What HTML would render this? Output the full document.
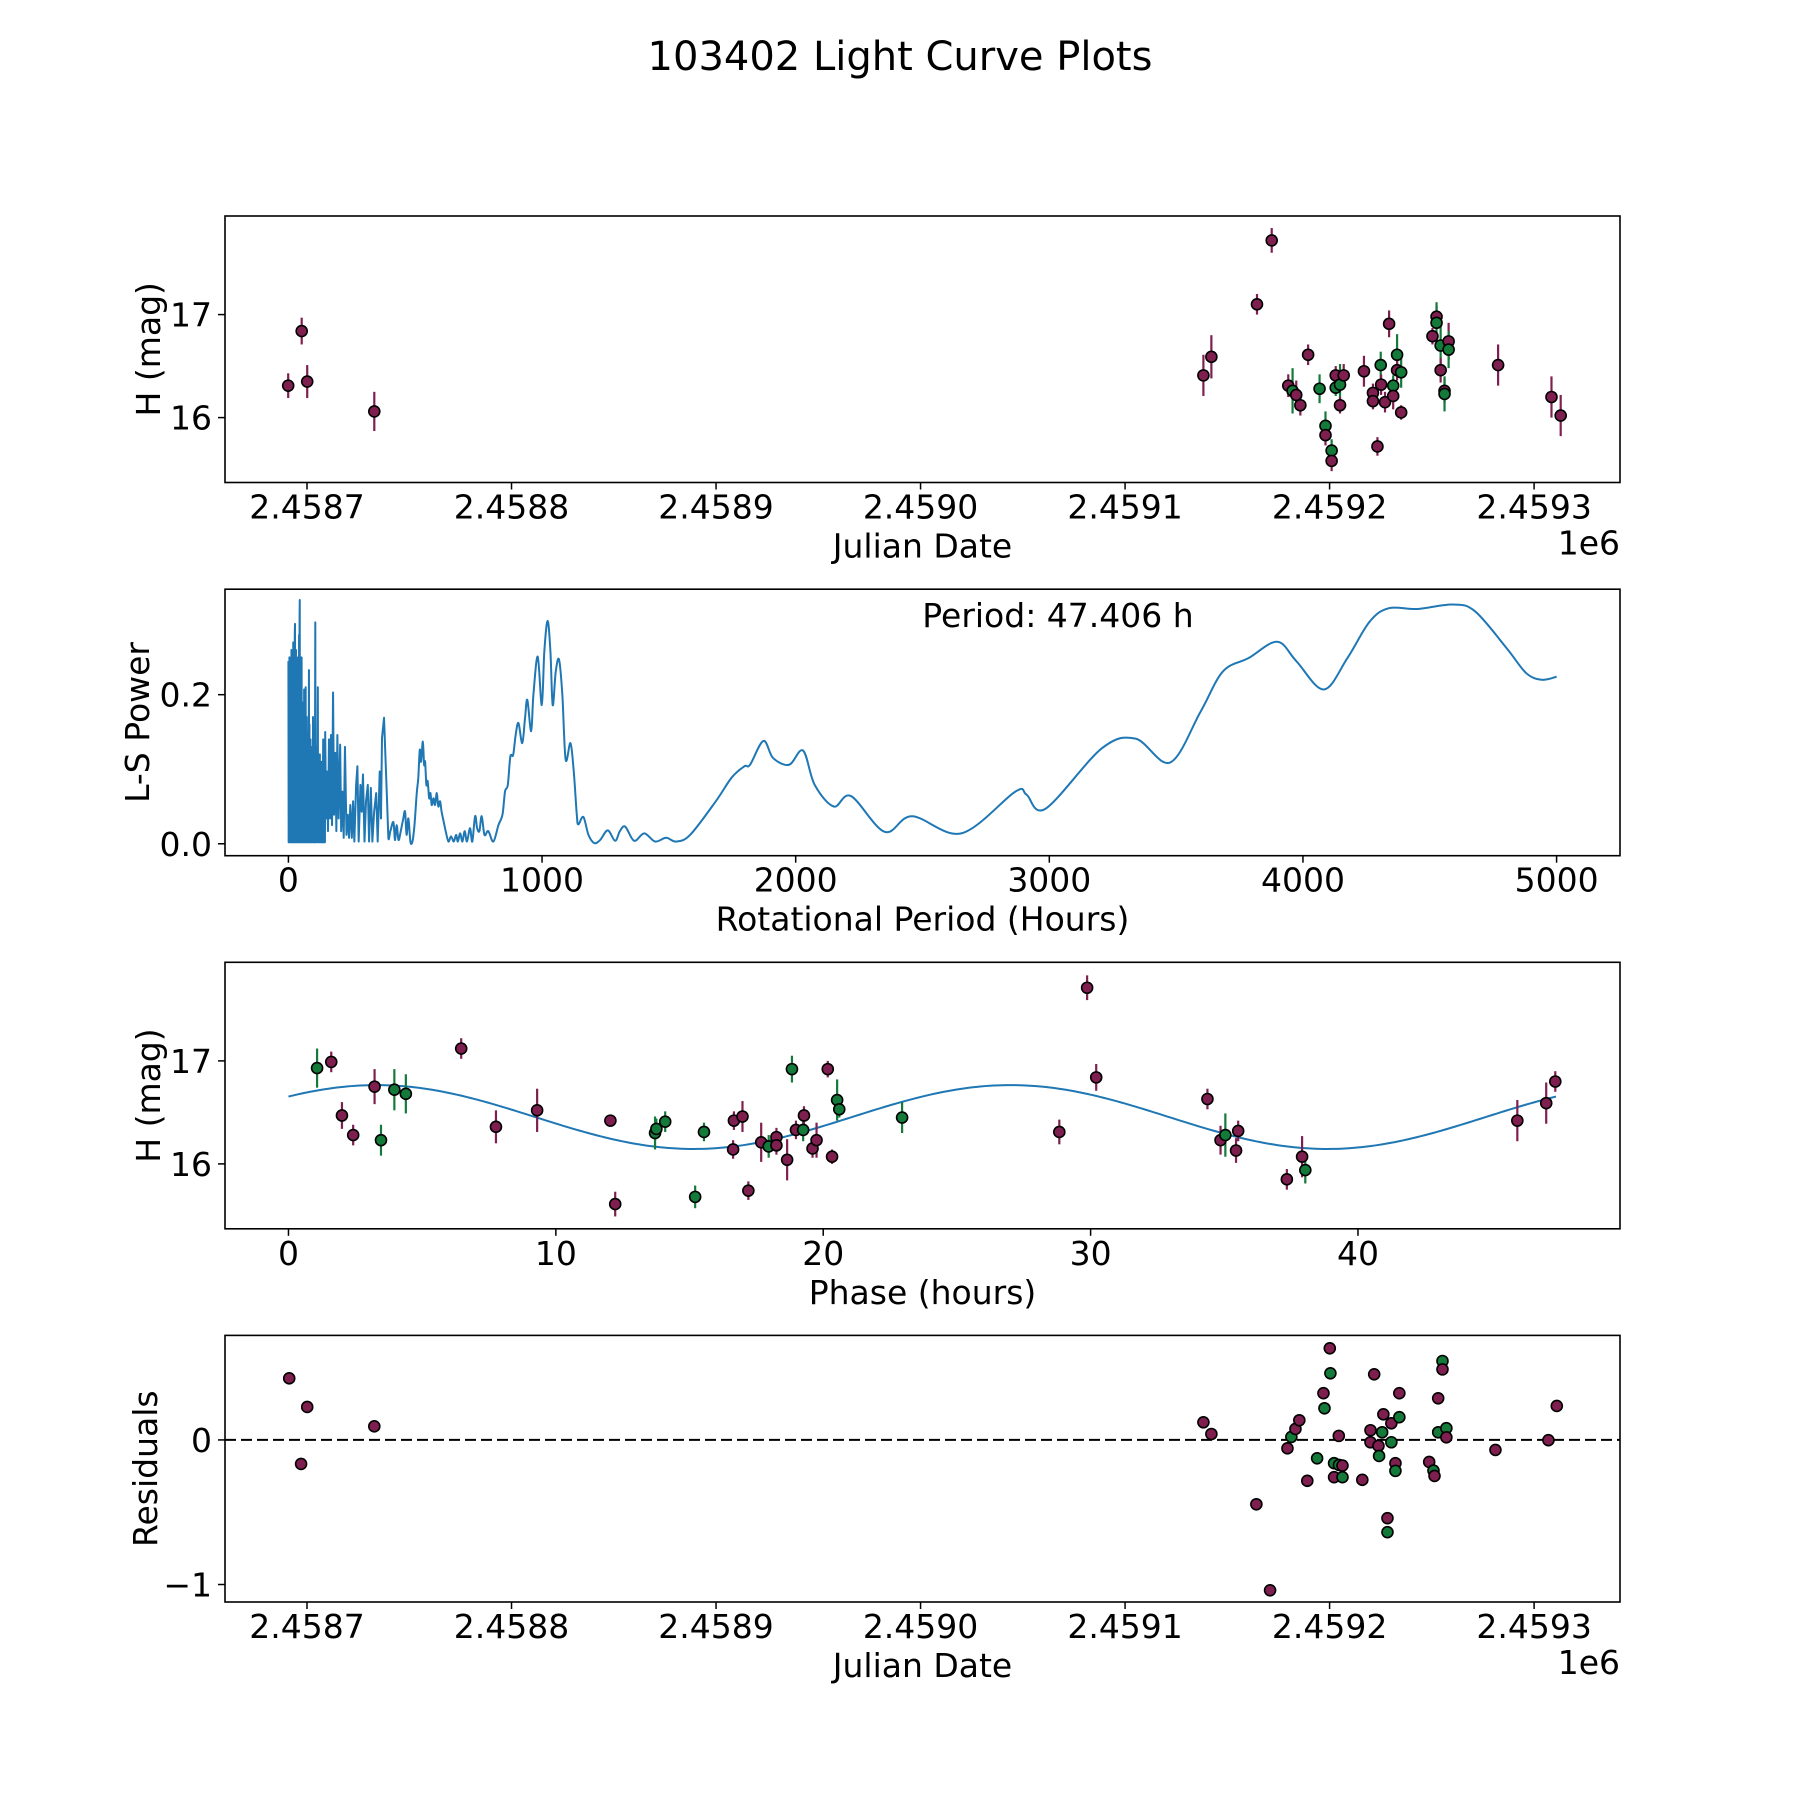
<!DOCTYPE html>
<html><head><meta charset="utf-8"><style>
html,body{margin:0;padding:0;background:#fff}
svg{display:block}
text{font-family:"DejaVu Sans","Liberation Sans",sans-serif;fill:#000}
</style></head><body>
<svg id="fig" width="1800" height="1800" viewBox="0 0 1800 1800" xmlns="http://www.w3.org/2000/svg">
<rect width="1800" height="1800" fill="#fff"/>
<text x="900" y="70" font-size="40" text-anchor="middle">103402 Light Curve Plots</text>
</svg>
<script>
// ---- Panel 1: light curve (Julian Date vs H mag)
const lcDate=[2458690.8,2458697.4,2458700.1,2458732.9,2459138.3,2459142.2,2459164.5,2459171.7,2459179.8,2459181.9,2459183.7,2459185.7,2459189.5,2459195.1,2459198.0,2459198.0,2459201.0,2459201.0,2459203.0,2459203.0,2459205.1,2459205.1,2459206.9,2459216.8,2459221.2,2459221.2,2459223.4,2459225.0,2459225.2,2459227.1,2459229.1,2459231.1,2459231.1,2459233.0,2459233.0,2459235.0,2459235.0,2459250.3,2459252.3,2459252.3,2459254.3,2459254.3,2459256.2,2459256.2,2459258.2,2459258.2,2459282.4,2459308.5,2459313.0];
const lcMag=[16.31,16.84,16.35,16.06,16.41,16.59,17.10,17.72,16.31,16.26,16.22,16.12,16.61,16.28,15.92,15.83,15.68,15.58,16.41,16.29,16.32,16.12,16.41,16.45,16.24,16.16,15.72,16.51,16.32,16.15,16.91,16.31,16.21,16.61,16.46,16.44,16.05,16.79,16.98,16.92,16.70,16.46,16.26,16.23,16.74,16.66,16.51,16.20,16.02];
const lcErr=[0.12,0.13,0.16,0.19,0.2,0.21,0.1,0.12,0.11,0.22,0.14,0.1,0.1,0.14,0.14,0.1,0.11,0.1,0.09,0.08,0.2,0.08,0.11,0.15,0.09,0.08,0.09,0.13,0.1,0.1,0.13,0.1,0.13,0.2,0.1,0.15,0.07,0.08,0.1,0.2,0.2,0.12,0.12,0.17,0.18,0.18,0.2,0.2,0.2];
const lcBand=['p','p','p','p','p','p','p','p','p','g','p','p','p','g','g','p','g','p','p','g','g','p','p','p','p','p','p','g','p','p','p','g','p','g','p','g','p','p','p','g','g','p','p','g','p','g','p','p','p'];
// ---- Panel 2: Lomb-Scargle periodogram
const lsPeriod=[0,1,2,3,4,5,6,7,8,9,10,11,12,13,14,15,16,17,18,19,20,21,22,23,24,25,26,27,28,29,30,31,32,33,34,35,36,37,38,39,40,41,42,43,44,44.7,45.5,47,48,49,50,52,53,54,55,56,57,58,59,60,61,62,63,64,65,66,67,68,69,70,71,72,73,74,75,76,77,78,79,81,82,83,84,85,86,87,88,89,90,91,92,93,94,95,96,97,98,99,100,101,102,103,104,106,107,108,109,110,111,112,113,114,116,117,118,119,120,121,122,123,124,125,126,127,128,129,130,131,132,133,134,135,137,138,139,140,141,142,143,144,145,148.5,152,156,160,164,168,172,176,180,185,189,193,198,204,208,213,218,223,229,234,239,244,250,255,260,267,272,277,284,289,294,300,306,313,318,325,331,338,346,352,360,365,369,377,382,389,394,402,414,420,427,434,443,453,460,466,473,481,489,497,506,512,518,523,530,535,539,544,549,555,560,565,572,578,585,591,598,604,612,620,631,641,652,661,668,677,686,695,704,716,725,736,744,753,762,773,788,808,828,844,854,865,875,886,896,907,922,933,942,957,966,983,999,1009,1022,1033,1042,1054,1067,1080,1093,1112,1125,1137,1143,1163,1183,1206,1229,1259,1288,1307,1328,1363,1403,1446,1489,1529,1584,1685,1748,1798,1820,1873,1911,1974,2029,2075,2150,2218,2351,2459,2653,2866,2910,2985,3207,3340,3476,3596,3684,3785,3898,3974,4082,4175,4263,4339,4452,4590,4678,4804,4880,4942,5000];
const lsPower=[.245,.002,.24,.002,.25,.01,.23,.002,.24,.02,.25,.002,.26,.257,.01,.2,.002,.24,.03,.27,.002,.25,.01,.26,.002,.28,.295,.002,.22,.01,.26,.002,.25,.02,.23,.002,.2,.01,.25,.002,.21,.05,.28,.002,.3,.327,.002,.2,.01,.22,.002,.25,.01,.19,.002,.16,.02,.18,.002,.15,.01,.207,.002,.12,.03,.18,.002,.21,.01,.14,.002,.17,.02,.11,.002,.15,.01,.12,.002,.233,.01,.16,.002,.12,.03,.14,.002,.1,.02,.13,.002,.09,.01,.12,.002,.17,.01,.11,.002,.13,.02,.09,.002,.297,.01,.12,.002,.1,.02,.13,.002,.08,.21,.01,.09,.002,.11,.03,.08,.002,.12,.01,.07,.002,.1,.02,.11,.002,.08,.03,.06,.002,.14,.01,.07,.002,.09,.02,.06,.002,.15,.034,.097,.017,.140,.034,.146,.025,.203,.039,.122,.017,.146,.034,.133,.017,.070,.008,.130,.012,.039,.008,.052,.008,.057,.003,.079,.104,.003,.079,.043,.093,.003,.057,.079,.003,.075,.003,.043,.068,.003,.097,.034,.142,.169,.122,.057,.008,.017,.029,.005,.025,.005,.017,.034,.043,.012,.034,.003,.003,.025,.068,.088,.126,.110,.137,.106,.110,.079,.084,.061,.068,.052,.061,.052,.068,.050,.057,.043,.030,.017,.003,.010,.003,.012,.003,.014,.003,.017,.003,.021,.003,.037,.021,.017,.037,.012,.017,.003,.025,.039,.070,.079,.117,.119,.146,.162,.135,.169,.193,.151,.200,.251,.186,.258,.299,.258,.186,.231,.247,.200,.113,.135,.097,.039,.026,.036,.012,.001,.005,.018,.004,.017,.023,.004,.014,.003,.008,.003,.012,.057,.089,.104,.106,.138,.115,.106,.125,.079,.050,.064,.016,.037,.014,.070,.066,.047,.128,.141,.109,.177,.231,.249,.271,.245,.207,.249,.298,.316,.315,.321,.312,.262,.229,.220,.224];
const lsPeriodLabel=['Period: 47.406 h'];
// ---- Panel 3: phase-folded light curve
const phHours=[1.07,1.60,2.00,2.42,3.22,3.46,3.96,4.39,6.46,7.76,9.30,12.04,12.22,13.71,13.76,14.09,15.21,15.54,16.63,16.66,16.98,17.20,17.68,17.96,18.25,18.25,18.65,18.83,18.98,19.25,19.28,19.60,19.75,20.17,20.33,20.52,20.60,22.95,29.87,30.21,28.83,34.37,34.86,35.04,35.44,35.52,37.34,37.91,38.03,45.96,47.04,47.38];
const phMag=[16.93,16.99,16.47,16.28,16.75,16.23,16.72,16.68,17.12,16.36,16.52,16.42,15.61,16.30,16.34,16.41,15.68,16.31,16.14,16.42,16.46,15.74,16.21,16.17,16.26,16.18,16.04,16.92,16.33,16.33,16.47,16.15,16.23,16.92,16.07,16.62,16.53,16.45,17.71,16.84,16.31,16.63,16.23,16.28,16.13,16.32,15.85,16.07,15.94,16.42,16.59,16.80];
const phErr=[0.19,0.1,0.13,0.1,0.17,0.15,0.2,0.19,0.1,0.16,0.21,0.05,0.12,0.16,0.1,0.1,0.11,0.09,0.09,0.09,0.15,0.09,0.19,0.11,0.09,0.09,0.2,0.13,0.09,0.11,0.09,0.09,0.17,0.08,0.07,0.2,0.08,0.15,0.12,0.13,0.12,0.1,0.14,0.21,0.12,0.1,0.1,0.2,0.13,0.2,0.2,0.1];
const phBand=['g','p','p','p','p','g','g','g','p','p','p','p','p','g','g','g','g','g','p','p','p','p','p','g','p','p','p','g','p','g','p','p','p','p','p','g','g','g','p','p','p','p','p','g','p','p','p','p','g','p','p','p'];
const fitMean=[16.455];
const fitAmp=[0.31];
const fitPeakHour=[3.3];
const fitPeriodHours=[47.406];
// ---- Panel 4: residuals
const resDate=[2458691.3,2458700.1,2458697.1,2458732.9,2459138.3,2459142.2,2459164.2,2459170.9,2459179.4,2459181.3,2459183.3,2459185.2,2459189.1,2459193.9,2459197.0,2459197.5,2459200.1,2459200.4,2459202.2,2459202.2,2459204.5,2459204.6,2459206.3,2459206.3,2459216.0,2459220.0,2459220.0,2459221.8,2459223.9,2459224.2,2459225.7,2459226.3,2459228.3,2459228.3,2459230.2,2459230.2,2459232.2,2459232.2,2459234.1,2459234.1,2459248.7,2459250.8,2459251.3,2459253.1,2459253.1,2459255.2,2459255.2,2459257.1,2459257.1,2459281.1,2459307.0,2459311.1];
const resVal=[0.426,0.228,-0.166,0.094,0.122,0.041,-0.445,-1.04,-0.058,0.021,0.076,0.136,-0.283,-0.127,0.323,0.219,0.634,0.461,-0.161,-0.258,0.028,-0.173,-0.177,-0.258,-0.276,0.067,-0.016,0.454,-0.041,-0.111,0.053,0.177,-0.541,-0.638,0.115,-0.016,-0.161,-0.214,0.323,0.157,-0.152,-0.212,-0.249,0.288,0.053,0.546,0.488,0.081,0.018,-0.069,-0.002,0.235];
const resBand=['p','p','p','p','p','p','p','p','p','g','p','p','p','g','p','g','p','g','g','p','p','g','p','g','p','p','p','p','p','g','g','p','p','g','p','g','p','g','p','g','p','g','p','p','g','g','p','g','p','p','p','p'];
// ---- tick labels
const jdTicks=[2458700,2458800,2458900,2459000,2459100,2459200,2459300];
const jdTickLabels=['2.4587','2.4588','2.4589','2.4590','2.4591','2.4592','2.4593'];
const magTicks=[16,17];
const magTickLabels=['16','17'];
const lsXTicks=[0,1000,2000,3000,4000,5000];
const lsXTickLabels=['0','1000','2000','3000','4000','5000'];
const lsYTicks=[0,0.2];
const lsYTickLabels=['0.0','0.2'];
const phTicks=[0,10,20,30,40];
const phTickLabels=['0','10','20','30','40'];
const resTicks=[-1,0];
const resTickLabels=['\u22121','0'];

const NS='http://www.w3.org/2000/svg';
const svg=document.getElementById('fig');
const COL={p:'#7f1f50',g:'#137a3a'};
function mk(tag,attrs,parent){const e=document.createElementNS(NS,tag);for(const k in attrs)e.setAttribute(k,attrs[k]);(parent||svg).appendChild(e);return e;}
function lin(d0,d1,r0,r1){return v=>r0+(v-d0)/(d1-d0)*(r1-r0);}
const L=225,R=1620;

function axes(name,top,bot,xd,yd,xt,xtl,yt,ytl,xlabel,ylabel,ylabX,offsetText){
  const g=mk('g',{});
  
  
  const sx=lin(xd[0],xd[1],L,R), sy=lin(yd[0],yd[1],bot,top);
  const data=mk('g',{},g);
  
  
  const frame=mk('rect',{x:L,y:top,width:R-L,height:bot-top,fill:'none',stroke:'#000','stroke-width':1.6},g);
  
  
  xt.forEach((t,i)=>{const x=sx(t);
    const tk=mk('line',{x1:x,x2:x,y1:bot,y2:bot+7,stroke:'#000','stroke-width':1.5},g);
    
    
    const tl=mk('text',{x:x,y:bot+36,'font-size':33,'text-anchor':'middle'},g);tl.textContent=xtl[i];
    
    
  });
  yt.forEach((t,i)=>{const y=sy(t);
    const tk=mk('line',{x1:L-7,x2:L,y1:y,y2:y,stroke:'#000','stroke-width':1.5},g);
    
    
    const tl=mk('text',{x:L-13,y:y+12,'font-size':33,'text-anchor':'end'},g);tl.textContent=ytl[i];
    
    
  });
  const xl=mk('text',{x:(L+R)/2,y:bot+75,'font-size':33,'text-anchor':'middle'},g);xl.textContent=xlabel;
  
  
  const cy=(top+bot)/2;
  const yl=mk('text',{x:ylabX,y:cy,'font-size':33,'text-anchor':'middle',transform:`rotate(-90 ${ylabX} ${cy})`},g);yl.textContent=ylabel;
  
  
  if(offsetText){const ot=mk('text',{x:R,y:bot+72,'font-size':33,'text-anchor':'end'},g);ot.textContent=offsetText;
    
    }
  return {sx,sy,data};
}
function errPoints(ax,xs,ys,es,bands){
  xs.forEach((xv,i)=>{
    const x=ax.sx(xv);
    const bar=mk('line',{x1:x,x2:x,y1:ax.sy(ys[i]-es[i]),y2:ax.sy(ys[i]+es[i]),stroke:COL[bands[i]],'stroke-width':2.2},ax.data);
    
    
  });
  xs.forEach((xv,i)=>{
    const c=mk('circle',{cx:ax.sx(xv),cy:ax.sy(ys[i]),r:5.5,fill:COL[bands[i]],stroke:'#000','stroke-width':1.6},ax.data);
    
    
  });
}
const JD=[2458659.9,2459342.0];
// Panel 1
const a1=axes('light-curve-panel',216,482.5,JD,[15.370,17.957],jdTicks,jdTickLabels,magTicks,magTickLabels,'Julian Date','H (mag)',160,'1e6');
errPoints(a1,lcDate,lcMag,lcErr,lcBand);
// Panel 2
const a2=axes('periodogram-panel',589.2,855.7,[-250,5250],[-0.016,0.3415],lsXTicks,lsXTickLabels,lsYTicks,lsYTickLabels,'Rotational Period (Hours)','L-S Power',149,null);
const P=lsPeriod.map((p,i)=>[a2.sx(p),a2.sy(lsPower[i])]);
let d='M'+P[0][0].toFixed(2)+','+P[0][1].toFixed(2);
for(let i=1;i<P.length;i++){
  if(lsPeriod[i]<400){d+=' L'+P[i][0].toFixed(2)+','+P[i][1].toFixed(2);continue;}
  const p0=P[i-2]||P[i-1],p1=P[i-1],p2=P[i],p3=P[i+1]||P[i];
  const c1x=p1[0]+(p2[0]-p0[0])/6,c1y=p1[1]+(p2[1]-p0[1])/6;
  const c2x=p2[0]-(p3[0]-p1[0])/6,c2y=p2[1]-(p3[1]-p1[1])/6;
  d+=' C'+c1x.toFixed(2)+','+c1y.toFixed(2)+' '+c2x.toFixed(2)+','+c2y.toFixed(2)+' '+p2[0].toFixed(2)+','+p2[1].toFixed(2);
}
const lsLine=mk('path',{d:d,fill:'none',stroke:'#1f77b4','stroke-width':2,'stroke-linejoin':'round'},a2.data);


const pl=mk('text',{x:1058,y:627,'font-size':33,'text-anchor':'middle'},svg);pl.textContent=lsPeriodLabel[0];


// Panel 3
const a3=axes('phase-panel',962.3,1228.8,[-2.374,49.80],[15.370,17.957],phTicks,phTickLabels,magTicks,magTickLabels,'Phase (hours)','H (mag)',160,null);
const fitPts=[];
for(let k=0;k<=300;k++){const ph=fitPeriodHours[0]*k/300;
  const m=fitMean[0]+fitAmp[0]*Math.cos(4*Math.PI*(ph-fitPeakHour[0])/fitPeriodHours[0]);
  fitPts.push(a3.sx(ph).toFixed(2)+','+a3.sy(m).toFixed(2));}
const fitLine=mk('polyline',{points:fitPts.join(' '),fill:'none',stroke:'#1f77b4','stroke-width':2},a3.data);


errPoints(a3,phHours,phMag,phErr,phBand);
// Panel 4
const a4=axes('residuals-panel',1335.4,1602,JD,[-1.121,0.723],jdTicks,jdTickLabels,resTicks,resTickLabels,'Julian Date','Residuals',157,'1e6');
const zl=mk('line',{x1:L,x2:R,y1:a4.sy(0),y2:a4.sy(0),stroke:'#000','stroke-width':2,'stroke-dasharray':'11,5'},a4.data);


resDate.forEach((d,i)=>{
  const c=mk('circle',{cx:a4.sx(d),cy:a4.sy(resVal[i]),r:5.5,fill:COL[resBand[i]],stroke:'#000','stroke-width':1.6},a4.data);
  
  
});
</script>
</body></html>
